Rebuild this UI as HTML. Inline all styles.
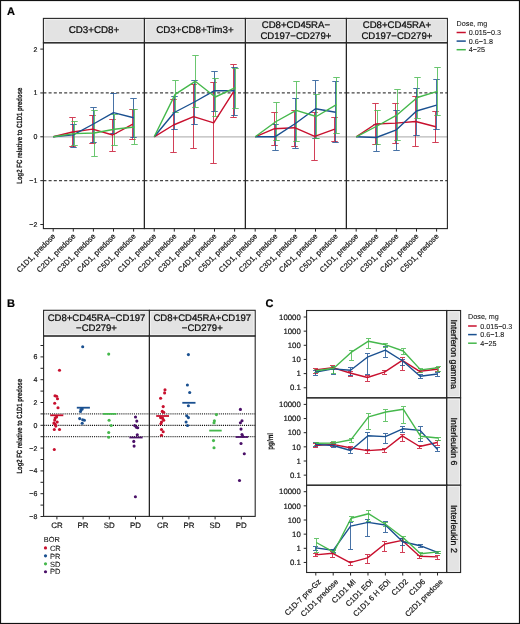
<!DOCTYPE html><html><head><meta charset="utf-8"><style>html,body{margin:0;padding:0;background:#fff;}svg{display:block;will-change:transform;}text{font-family:"Liberation Sans",sans-serif;text-rendering:geometricPrecision;stroke:currentColor;stroke-width:0.18px;} text.st{stroke-width:0.24px;} text.lg{stroke-width:0.08px;} text.nb{stroke-width:0.15px;}</style></head><body>
<svg width="520" height="624" viewBox="0 0 520 624">
<rect x="0" y="0" width="520" height="624" fill="#fff" stroke="none" stroke-width="1" />
<text x="6.9" y="14.9" font-size="11" text-anchor="start" fill="#000" font-weight="bold">A</text>
<text x="7" y="307" font-size="11" text-anchor="start" fill="#000" font-weight="bold">B</text>
<text x="265.6" y="306.6" font-size="11" text-anchor="start" fill="#000" font-weight="bold">C</text>
<rect x="43.4" y="18.4" width="101" height="24.4" fill="#e3e3e3" stroke="#262626" stroke-width="1.1" />
<rect x="44.7" y="19.7" width="98.4" height="21.8" fill="none" stroke="#f4f4f4" stroke-width="0.8" />
<text x="93.9" y="33.2" font-size="9.75" text-anchor="middle" fill="#111" class="st">CD3+CD8+</text>
<line x1="43.4" y1="136.8" x2="144.4" y2="136.8" stroke="#b8b8b8" stroke-width="1.2" />
<line x1="43.4" y1="92.95" x2="144.4" y2="92.95" stroke="#444" stroke-width="1.3" stroke-dasharray="3 2.2"/>
<line x1="43.4" y1="180.65" x2="144.4" y2="180.65" stroke="#444" stroke-width="1.3" stroke-dasharray="3 2.2"/>
<g stroke="#c8102e" stroke-width="1" opacity="0.8"><line x1="72.5" y1="117.5" x2="72.5" y2="146.5"/><line x1="69.25" y1="117.5" x2="75.75" y2="117.5"/><line x1="69.25" y1="146.5" x2="75.75" y2="146.5"/></g>
<g stroke="#c8102e" stroke-width="1" opacity="0.8"><line x1="92.5" y1="115.5" x2="92.5" y2="143.5"/><line x1="89.25" y1="115.5" x2="95.75" y2="115.5"/><line x1="89.25" y1="143.5" x2="95.75" y2="143.5"/></g>
<g stroke="#c8102e" stroke-width="1" opacity="0.8"><line x1="112.5" y1="119.5" x2="112.5" y2="151.5"/><line x1="109.25" y1="119.5" x2="115.75" y2="119.5"/><line x1="109.25" y1="151.5" x2="115.75" y2="151.5"/></g>
<g stroke="#c8102e" stroke-width="1" opacity="0.8"><line x1="132.5" y1="109.5" x2="132.5" y2="139.5"/><line x1="129.25" y1="109.5" x2="135.75" y2="109.5"/><line x1="129.25" y1="139.5" x2="135.75" y2="139.5"/></g>
<g stroke="#1a5090" stroke-width="1" opacity="0.8"><line x1="73.5" y1="124.5" x2="73.5" y2="147.5"/><line x1="70.25" y1="124.5" x2="76.75" y2="124.5"/><line x1="70.25" y1="147.5" x2="76.75" y2="147.5"/></g>
<g stroke="#1a5090" stroke-width="1" opacity="0.8"><line x1="93.5" y1="107.5" x2="93.5" y2="142.5"/><line x1="90.25" y1="107.5" x2="96.75" y2="107.5"/><line x1="90.25" y1="142.5" x2="96.75" y2="142.5"/></g>
<g stroke="#1a5090" stroke-width="1" opacity="0.8"><line x1="113.5" y1="93.5" x2="113.5" y2="133.5"/><line x1="110.25" y1="93.5" x2="116.75" y2="93.5"/><line x1="110.25" y1="133.5" x2="116.75" y2="133.5"/></g>
<g stroke="#1a5090" stroke-width="1" opacity="0.8"><line x1="133.5" y1="98.5" x2="133.5" y2="137.5"/><line x1="130.25" y1="98.5" x2="136.75" y2="98.5"/><line x1="130.25" y1="137.5" x2="136.75" y2="137.5"/></g>
<g stroke="#45b84c" stroke-width="1" opacity="0.8"><line x1="74.5" y1="121.5" x2="74.5" y2="145.5"/><line x1="71.25" y1="121.5" x2="77.75" y2="121.5"/><line x1="71.25" y1="145.5" x2="77.75" y2="145.5"/></g>
<g stroke="#45b84c" stroke-width="1" opacity="0.8"><line x1="94.5" y1="110.5" x2="94.5" y2="156.5"/><line x1="91.25" y1="110.5" x2="97.75" y2="110.5"/><line x1="91.25" y1="156.5" x2="97.75" y2="156.5"/></g>
<g stroke="#45b84c" stroke-width="1" opacity="0.8"><line x1="114.5" y1="114.5" x2="114.5" y2="145.5"/><line x1="111.25" y1="114.5" x2="117.75" y2="114.5"/><line x1="111.25" y1="145.5" x2="117.75" y2="145.5"/></g>
<g stroke="#45b84c" stroke-width="1" opacity="0.8"><line x1="134.5" y1="109.5" x2="134.5" y2="144.5"/><line x1="131.25" y1="109.5" x2="137.75" y2="109.5"/><line x1="131.25" y1="144.5" x2="137.75" y2="144.5"/></g>
<polyline points="53.2,136.8 72.5,132 92.6,129.1 112.7,135 132.8,124.1" fill="none" stroke="#c8102e" stroke-width="1.4" stroke-linejoin="round"/>
<polyline points="53.2,136.8 73.3,134.9 93.4,124 113.5,112.6 133.6,117.7" fill="none" stroke="#1a5090" stroke-width="1.4" stroke-linejoin="round"/>
<polyline points="53.2,136.8 74.1,133.6 94.2,133 114.3,129.2 134.4,127" fill="none" stroke="#45b84c" stroke-width="1.4" stroke-linejoin="round"/>
<rect x="43.4" y="42.8" width="101" height="185.8" fill="none" stroke="#262626" stroke-width="1.1" />
<line x1="53.2" y1="228.6" x2="53.2" y2="231.6" stroke="#262626" stroke-width="1" />
<text transform="translate(52.4,233.4) rotate(-45)" font-size="7.6" text-anchor="end" fill="#1f1f1f" dy="4.8">C1D1, predose</text>
<line x1="73.3" y1="228.6" x2="73.3" y2="231.6" stroke="#262626" stroke-width="1" />
<text transform="translate(72.5,233.4) rotate(-45)" font-size="7.6" text-anchor="end" fill="#1f1f1f" dy="4.8">C2D1, predose</text>
<line x1="93.4" y1="228.6" x2="93.4" y2="231.6" stroke="#262626" stroke-width="1" />
<text transform="translate(92.6,233.4) rotate(-45)" font-size="7.6" text-anchor="end" fill="#1f1f1f" dy="4.8">C3D1, predose</text>
<line x1="113.5" y1="228.6" x2="113.5" y2="231.6" stroke="#262626" stroke-width="1" />
<text transform="translate(112.7,233.4) rotate(-45)" font-size="7.6" text-anchor="end" fill="#1f1f1f" dy="4.8">C4D1, predose</text>
<line x1="133.6" y1="228.6" x2="133.6" y2="231.6" stroke="#262626" stroke-width="1" />
<text transform="translate(132.8,233.4) rotate(-45)" font-size="7.6" text-anchor="end" fill="#1f1f1f" dy="4.8">C5D1, predose</text>
<rect x="144.4" y="18.4" width="101" height="24.4" fill="#e3e3e3" stroke="#262626" stroke-width="1.1" />
<rect x="145.7" y="19.7" width="98.4" height="21.8" fill="none" stroke="#f4f4f4" stroke-width="0.8" />
<text x="194.9" y="33.2" font-size="9.75" text-anchor="middle" fill="#111" class="st">CD3+CD8+Tim3+</text>
<line x1="144.4" y1="136.8" x2="245.4" y2="136.8" stroke="#b8b8b8" stroke-width="1.2" />
<line x1="144.4" y1="92.95" x2="245.4" y2="92.95" stroke="#444" stroke-width="1.3" stroke-dasharray="3 2.2"/>
<line x1="144.4" y1="180.65" x2="245.4" y2="180.65" stroke="#444" stroke-width="1.3" stroke-dasharray="3 2.2"/>
<g stroke="#c8102e" stroke-width="1" opacity="0.8"><line x1="173.5" y1="99.5" x2="173.5" y2="152.5"/><line x1="170.25" y1="99.5" x2="176.75" y2="99.5"/><line x1="170.25" y1="152.5" x2="176.75" y2="152.5"/></g>
<g stroke="#c8102e" stroke-width="1" opacity="0.8"><line x1="193.5" y1="84.5" x2="193.5" y2="148.5"/><line x1="190.25" y1="84.5" x2="196.75" y2="84.5"/><line x1="190.25" y1="148.5" x2="196.75" y2="148.5"/></g>
<g stroke="#c8102e" stroke-width="1" opacity="0.8"><line x1="213.5" y1="82.5" x2="213.5" y2="163.5"/><line x1="210.25" y1="82.5" x2="216.75" y2="82.5"/><line x1="210.25" y1="163.5" x2="216.75" y2="163.5"/></g>
<g stroke="#c8102e" stroke-width="1" opacity="0.8"><line x1="233.5" y1="64.5" x2="233.5" y2="117.5"/><line x1="230.25" y1="64.5" x2="236.75" y2="64.5"/><line x1="230.25" y1="117.5" x2="236.75" y2="117.5"/></g>
<g stroke="#1a5090" stroke-width="1" opacity="0.8"><line x1="174.5" y1="96.5" x2="174.5" y2="129.5"/><line x1="171.25" y1="96.5" x2="177.75" y2="96.5"/><line x1="171.25" y1="129.5" x2="177.75" y2="129.5"/></g>
<g stroke="#1a5090" stroke-width="1" opacity="0.8"><line x1="194.5" y1="80.5" x2="194.5" y2="124.5"/><line x1="191.25" y1="80.5" x2="197.75" y2="80.5"/><line x1="191.25" y1="124.5" x2="197.75" y2="124.5"/></g>
<g stroke="#1a5090" stroke-width="1" opacity="0.8"><line x1="214.5" y1="71.5" x2="214.5" y2="111.5"/><line x1="211.25" y1="71.5" x2="217.75" y2="71.5"/><line x1="211.25" y1="111.5" x2="217.75" y2="111.5"/></g>
<g stroke="#1a5090" stroke-width="1" opacity="0.8"><line x1="234.5" y1="67.5" x2="234.5" y2="115.5"/><line x1="231.25" y1="67.5" x2="237.75" y2="67.5"/><line x1="231.25" y1="115.5" x2="237.75" y2="115.5"/></g>
<g stroke="#45b84c" stroke-width="1" opacity="0.8"><line x1="175.5" y1="80.5" x2="175.5" y2="112.5"/><line x1="172.25" y1="80.5" x2="178.75" y2="80.5"/><line x1="172.25" y1="112.5" x2="178.75" y2="112.5"/></g>
<g stroke="#45b84c" stroke-width="1" opacity="0.8"><line x1="195.5" y1="55.5" x2="195.5" y2="107.5"/><line x1="192.25" y1="55.5" x2="198.75" y2="55.5"/><line x1="192.25" y1="107.5" x2="198.75" y2="107.5"/></g>
<g stroke="#45b84c" stroke-width="1" opacity="0.8"><line x1="215.5" y1="78.5" x2="215.5" y2="116.5"/><line x1="212.25" y1="78.5" x2="218.75" y2="78.5"/><line x1="212.25" y1="116.5" x2="218.75" y2="116.5"/></g>
<g stroke="#45b84c" stroke-width="1" opacity="0.8"><line x1="235.5" y1="68.5" x2="235.5" y2="108.5"/><line x1="232.25" y1="68.5" x2="238.75" y2="68.5"/><line x1="232.25" y1="108.5" x2="238.75" y2="108.5"/></g>
<polyline points="154.2,136.8 173.5,125 193.6,116.7 213.7,122.8 233.8,91.4" fill="none" stroke="#c8102e" stroke-width="1.4" stroke-linejoin="round"/>
<polyline points="154.2,136.8 174.3,112.5 194.4,102 214.5,90.7 234.6,90.7" fill="none" stroke="#1a5090" stroke-width="1.4" stroke-linejoin="round"/>
<polyline points="154.2,136.8 175.1,94.4 195.2,81.3 215.3,97 235.4,87.6" fill="none" stroke="#45b84c" stroke-width="1.4" stroke-linejoin="round"/>
<rect x="144.4" y="42.8" width="101" height="185.8" fill="none" stroke="#262626" stroke-width="1.1" />
<line x1="154.2" y1="228.6" x2="154.2" y2="231.6" stroke="#262626" stroke-width="1" />
<text transform="translate(153.4,233.4) rotate(-45)" font-size="7.6" text-anchor="end" fill="#1f1f1f" dy="4.8">C1D1, predose</text>
<line x1="174.3" y1="228.6" x2="174.3" y2="231.6" stroke="#262626" stroke-width="1" />
<text transform="translate(173.5,233.4) rotate(-45)" font-size="7.6" text-anchor="end" fill="#1f1f1f" dy="4.8">C2D1, predose</text>
<line x1="194.4" y1="228.6" x2="194.4" y2="231.6" stroke="#262626" stroke-width="1" />
<text transform="translate(193.6,233.4) rotate(-45)" font-size="7.6" text-anchor="end" fill="#1f1f1f" dy="4.8">C3D1, predose</text>
<line x1="214.5" y1="228.6" x2="214.5" y2="231.6" stroke="#262626" stroke-width="1" />
<text transform="translate(213.7,233.4) rotate(-45)" font-size="7.6" text-anchor="end" fill="#1f1f1f" dy="4.8">C4D1, predose</text>
<line x1="234.6" y1="228.6" x2="234.6" y2="231.6" stroke="#262626" stroke-width="1" />
<text transform="translate(233.8,233.4) rotate(-45)" font-size="7.6" text-anchor="end" fill="#1f1f1f" dy="4.8">C5D1, predose</text>
<rect x="245.4" y="18.4" width="101" height="24.4" fill="#e3e3e3" stroke="#262626" stroke-width="1.1" />
<rect x="246.7" y="19.7" width="98.4" height="21.8" fill="none" stroke="#f4f4f4" stroke-width="0.8" />
<text x="295.9" y="28" font-size="9.6" text-anchor="middle" fill="#111" class="st">CD8+CD45RA&#8722;</text>
<text x="295.9" y="38.7" font-size="9.6" text-anchor="middle" fill="#111" class="st">CD197&#8722;CD279+</text>
<line x1="245.4" y1="136.8" x2="346.4" y2="136.8" stroke="#b8b8b8" stroke-width="1.2" />
<line x1="245.4" y1="92.95" x2="346.4" y2="92.95" stroke="#444" stroke-width="1.3" stroke-dasharray="3 2.2"/>
<line x1="245.4" y1="180.65" x2="346.4" y2="180.65" stroke="#444" stroke-width="1.3" stroke-dasharray="3 2.2"/>
<g stroke="#c8102e" stroke-width="1" opacity="0.8"><line x1="274.5" y1="112.5" x2="274.5" y2="145.5"/><line x1="271.25" y1="112.5" x2="277.75" y2="112.5"/><line x1="271.25" y1="145.5" x2="277.75" y2="145.5"/></g>
<g stroke="#c8102e" stroke-width="1" opacity="0.8"><line x1="294.5" y1="110.5" x2="294.5" y2="146.5"/><line x1="291.25" y1="110.5" x2="297.75" y2="110.5"/><line x1="291.25" y1="146.5" x2="297.75" y2="146.5"/></g>
<g stroke="#c8102e" stroke-width="1" opacity="0.8"><line x1="314.5" y1="112.5" x2="314.5" y2="160.5"/><line x1="311.25" y1="112.5" x2="317.75" y2="112.5"/><line x1="311.25" y1="160.5" x2="317.75" y2="160.5"/></g>
<g stroke="#c8102e" stroke-width="1" opacity="0.8"><line x1="334.5" y1="117.5" x2="334.5" y2="141.5"/><line x1="331.25" y1="117.5" x2="337.75" y2="117.5"/><line x1="331.25" y1="141.5" x2="337.75" y2="141.5"/></g>
<g stroke="#1a5090" stroke-width="1" opacity="0.8"><line x1="275.5" y1="124.5" x2="275.5" y2="150.5"/><line x1="272.25" y1="124.5" x2="278.75" y2="124.5"/><line x1="272.25" y1="150.5" x2="278.75" y2="150.5"/></g>
<g stroke="#1a5090" stroke-width="1" opacity="0.8"><line x1="295.5" y1="98.5" x2="295.5" y2="148.5"/><line x1="292.25" y1="98.5" x2="298.75" y2="98.5"/><line x1="292.25" y1="148.5" x2="298.75" y2="148.5"/></g>
<g stroke="#1a5090" stroke-width="1" opacity="0.8"><line x1="315.5" y1="80.5" x2="315.5" y2="138.5"/><line x1="312.25" y1="80.5" x2="318.75" y2="80.5"/><line x1="312.25" y1="138.5" x2="318.75" y2="138.5"/></g>
<g stroke="#1a5090" stroke-width="1" opacity="0.8"><line x1="335.5" y1="81.5" x2="335.5" y2="142.5"/><line x1="332.25" y1="81.5" x2="338.75" y2="81.5"/><line x1="332.25" y1="142.5" x2="338.75" y2="142.5"/></g>
<g stroke="#45b84c" stroke-width="1" opacity="0.8"><line x1="276.5" y1="102.5" x2="276.5" y2="140.5"/><line x1="273.25" y1="102.5" x2="279.75" y2="102.5"/><line x1="273.25" y1="140.5" x2="279.75" y2="140.5"/></g>
<g stroke="#45b84c" stroke-width="1" opacity="0.8"><line x1="296.5" y1="81.5" x2="296.5" y2="141.5"/><line x1="293.25" y1="81.5" x2="299.75" y2="81.5"/><line x1="293.25" y1="141.5" x2="299.75" y2="141.5"/></g>
<g stroke="#45b84c" stroke-width="1" opacity="0.8"><line x1="316.5" y1="94.5" x2="316.5" y2="138.5"/><line x1="313.25" y1="94.5" x2="319.75" y2="94.5"/><line x1="313.25" y1="138.5" x2="319.75" y2="138.5"/></g>
<g stroke="#45b84c" stroke-width="1" opacity="0.8"><line x1="336.5" y1="77.5" x2="336.5" y2="133.5"/><line x1="333.25" y1="77.5" x2="339.75" y2="77.5"/><line x1="333.25" y1="133.5" x2="339.75" y2="133.5"/></g>
<polyline points="255.2,136.8 274.5,128.7 294.6,127.7 314.7,136.3 334.8,129.2" fill="none" stroke="#c8102e" stroke-width="1.4" stroke-linejoin="round"/>
<polyline points="255.2,136.8 275.3,136.7 295.4,123.5 315.5,108.8 335.6,112.3" fill="none" stroke="#1a5090" stroke-width="1.4" stroke-linejoin="round"/>
<polyline points="255.2,136.8 276.1,121.5 296.2,110.4 316.3,116.5 336.4,104.6" fill="none" stroke="#45b84c" stroke-width="1.4" stroke-linejoin="round"/>
<rect x="245.4" y="42.8" width="101" height="185.8" fill="none" stroke="#262626" stroke-width="1.1" />
<line x1="255.2" y1="228.6" x2="255.2" y2="231.6" stroke="#262626" stroke-width="1" />
<text transform="translate(254.4,233.4) rotate(-45)" font-size="7.6" text-anchor="end" fill="#1f1f1f" dy="4.8">C1D1, predose</text>
<line x1="275.3" y1="228.6" x2="275.3" y2="231.6" stroke="#262626" stroke-width="1" />
<text transform="translate(274.5,233.4) rotate(-45)" font-size="7.6" text-anchor="end" fill="#1f1f1f" dy="4.8">C2D1, predose</text>
<line x1="295.4" y1="228.6" x2="295.4" y2="231.6" stroke="#262626" stroke-width="1" />
<text transform="translate(294.6,233.4) rotate(-45)" font-size="7.6" text-anchor="end" fill="#1f1f1f" dy="4.8">C3D1, predose</text>
<line x1="315.5" y1="228.6" x2="315.5" y2="231.6" stroke="#262626" stroke-width="1" />
<text transform="translate(314.7,233.4) rotate(-45)" font-size="7.6" text-anchor="end" fill="#1f1f1f" dy="4.8">C4D1, predose</text>
<line x1="335.6" y1="228.6" x2="335.6" y2="231.6" stroke="#262626" stroke-width="1" />
<text transform="translate(334.8,233.4) rotate(-45)" font-size="7.6" text-anchor="end" fill="#1f1f1f" dy="4.8">C5D1, predose</text>
<rect x="346.4" y="18.4" width="101" height="24.4" fill="#e3e3e3" stroke="#262626" stroke-width="1.1" />
<rect x="347.7" y="19.7" width="98.4" height="21.8" fill="none" stroke="#f4f4f4" stroke-width="0.8" />
<text x="396.9" y="28" font-size="9.6" text-anchor="middle" fill="#111" class="st">CD8+CD45RA+</text>
<text x="396.9" y="38.7" font-size="9.6" text-anchor="middle" fill="#111" class="st">CD197&#8722;CD279+</text>
<line x1="346.4" y1="136.8" x2="447.4" y2="136.8" stroke="#b8b8b8" stroke-width="1.2" />
<line x1="346.4" y1="92.95" x2="447.4" y2="92.95" stroke="#444" stroke-width="1.3" stroke-dasharray="3 2.2"/>
<line x1="346.4" y1="180.65" x2="447.4" y2="180.65" stroke="#444" stroke-width="1.3" stroke-dasharray="3 2.2"/>
<g stroke="#c8102e" stroke-width="1" opacity="0.8"><line x1="375.5" y1="103.5" x2="375.5" y2="144.5"/><line x1="372.25" y1="103.5" x2="378.75" y2="103.5"/><line x1="372.25" y1="144.5" x2="378.75" y2="144.5"/></g>
<g stroke="#c8102e" stroke-width="1" opacity="0.8"><line x1="395.5" y1="103.5" x2="395.5" y2="143.5"/><line x1="392.25" y1="103.5" x2="398.75" y2="103.5"/><line x1="392.25" y1="143.5" x2="398.75" y2="143.5"/></g>
<g stroke="#c8102e" stroke-width="1" opacity="0.8"><line x1="415.5" y1="96.5" x2="415.5" y2="146.5"/><line x1="412.25" y1="96.5" x2="418.75" y2="96.5"/><line x1="412.25" y1="146.5" x2="418.75" y2="146.5"/></g>
<g stroke="#c8102e" stroke-width="1" opacity="0.8"><line x1="435.5" y1="111.5" x2="435.5" y2="142.5"/><line x1="432.25" y1="111.5" x2="438.75" y2="111.5"/><line x1="432.25" y1="142.5" x2="438.75" y2="142.5"/></g>
<g stroke="#1a5090" stroke-width="1" opacity="0.8"><line x1="376.5" y1="124.5" x2="376.5" y2="151.5"/><line x1="373.25" y1="124.5" x2="379.75" y2="124.5"/><line x1="373.25" y1="151.5" x2="379.75" y2="151.5"/></g>
<g stroke="#1a5090" stroke-width="1" opacity="0.8"><line x1="396.5" y1="110.5" x2="396.5" y2="150.5"/><line x1="393.25" y1="110.5" x2="399.75" y2="110.5"/><line x1="393.25" y1="150.5" x2="399.75" y2="150.5"/></g>
<g stroke="#1a5090" stroke-width="1" opacity="0.8"><line x1="416.5" y1="88.5" x2="416.5" y2="135.5"/><line x1="413.25" y1="88.5" x2="419.75" y2="88.5"/><line x1="413.25" y1="135.5" x2="419.75" y2="135.5"/></g>
<g stroke="#1a5090" stroke-width="1" opacity="0.8"><line x1="436.5" y1="79.5" x2="436.5" y2="129.5"/><line x1="433.25" y1="79.5" x2="439.75" y2="79.5"/><line x1="433.25" y1="129.5" x2="439.75" y2="129.5"/></g>
<g stroke="#45b84c" stroke-width="1" opacity="0.8"><line x1="377.5" y1="110.5" x2="377.5" y2="144.5"/><line x1="374.25" y1="110.5" x2="380.75" y2="110.5"/><line x1="374.25" y1="144.5" x2="380.75" y2="144.5"/></g>
<g stroke="#45b84c" stroke-width="1" opacity="0.8"><line x1="397.5" y1="89.5" x2="397.5" y2="140.5"/><line x1="394.25" y1="89.5" x2="400.75" y2="89.5"/><line x1="394.25" y1="140.5" x2="400.75" y2="140.5"/></g>
<g stroke="#45b84c" stroke-width="1" opacity="0.8"><line x1="417.5" y1="77.5" x2="417.5" y2="118.5"/><line x1="414.25" y1="77.5" x2="420.75" y2="77.5"/><line x1="414.25" y1="118.5" x2="420.75" y2="118.5"/></g>
<g stroke="#45b84c" stroke-width="1" opacity="0.8"><line x1="437.5" y1="67.5" x2="437.5" y2="115.5"/><line x1="434.25" y1="67.5" x2="440.75" y2="67.5"/><line x1="434.25" y1="115.5" x2="440.75" y2="115.5"/></g>
<polyline points="356.2,136.8 375.5,124 395.6,123.1 415.7,121.5 435.8,126.7" fill="none" stroke="#c8102e" stroke-width="1.4" stroke-linejoin="round"/>
<polyline points="356.2,136.8 376.3,137.5 396.4,129.8 416.5,111 436.6,105.2" fill="none" stroke="#1a5090" stroke-width="1.4" stroke-linejoin="round"/>
<polyline points="356.2,136.8 377.1,126 397.2,114.8 417.3,97.5 437.4,91.3" fill="none" stroke="#45b84c" stroke-width="1.4" stroke-linejoin="round"/>
<rect x="346.4" y="42.8" width="101" height="185.8" fill="none" stroke="#262626" stroke-width="1.1" />
<line x1="356.2" y1="228.6" x2="356.2" y2="231.6" stroke="#262626" stroke-width="1" />
<text transform="translate(355.4,233.4) rotate(-45)" font-size="7.6" text-anchor="end" fill="#1f1f1f" dy="4.8">C1D1, predose</text>
<line x1="376.3" y1="228.6" x2="376.3" y2="231.6" stroke="#262626" stroke-width="1" />
<text transform="translate(375.5,233.4) rotate(-45)" font-size="7.6" text-anchor="end" fill="#1f1f1f" dy="4.8">C2D1, predose</text>
<line x1="396.4" y1="228.6" x2="396.4" y2="231.6" stroke="#262626" stroke-width="1" />
<text transform="translate(395.6,233.4) rotate(-45)" font-size="7.6" text-anchor="end" fill="#1f1f1f" dy="4.8">C3D1, predose</text>
<line x1="416.5" y1="228.6" x2="416.5" y2="231.6" stroke="#262626" stroke-width="1" />
<text transform="translate(415.7,233.4) rotate(-45)" font-size="7.6" text-anchor="end" fill="#1f1f1f" dy="4.8">C4D1, predose</text>
<line x1="436.6" y1="228.6" x2="436.6" y2="231.6" stroke="#262626" stroke-width="1" />
<text transform="translate(435.8,233.4) rotate(-45)" font-size="7.6" text-anchor="end" fill="#1f1f1f" dy="4.8">C5D1, predose</text>
<line x1="40.3" y1="49.1" x2="43.4" y2="49.1" stroke="#262626" stroke-width="1" />
<text x="37.3" y="51.6" font-size="7" text-anchor="end" fill="#1f1f1f" >2</text>
<line x1="40.3" y1="92.95" x2="43.4" y2="92.95" stroke="#262626" stroke-width="1" />
<text x="37.3" y="95.45" font-size="7" text-anchor="end" fill="#1f1f1f" >1</text>
<line x1="40.3" y1="136.8" x2="43.4" y2="136.8" stroke="#262626" stroke-width="1" />
<text x="37.3" y="139.3" font-size="7" text-anchor="end" fill="#1f1f1f" >0</text>
<line x1="40.3" y1="180.65" x2="43.4" y2="180.65" stroke="#262626" stroke-width="1" />
<text x="37.3" y="183.15" font-size="7" text-anchor="end" fill="#1f1f1f" >&#8722;1</text>
<line x1="40.3" y1="224.5" x2="43.4" y2="224.5" stroke="#262626" stroke-width="1" />
<text x="37.3" y="227" font-size="7" text-anchor="end" fill="#1f1f1f" >&#8722;2</text>
<text transform="translate(21.6,135.7) rotate(-90) scale(0.79,1)" font-size="7.6" font-weight="bold" class="nb" text-anchor="middle" fill="#1a1a1a">Log2 FC relative to C1D1 predose</text>
<text x="456.6" y="25.8" font-size="7.2" text-anchor="start" fill="#222" class="lg">Dose, mg</text>
<line x1="456.6" y1="32.5" x2="465.8" y2="32.5" stroke="#c8102e" stroke-width="1.5" />
<text x="468.8" y="35" font-size="7.2" text-anchor="start" fill="#222" class="lg">0.015&#8722;0.3</text>
<line x1="456.6" y1="41.1" x2="465.8" y2="41.1" stroke="#1a5090" stroke-width="1.5" />
<text x="468.8" y="43.6" font-size="7.2" text-anchor="start" fill="#222" class="lg">0.6&#8722;1.8</text>
<line x1="456.6" y1="49.7" x2="465.8" y2="49.7" stroke="#45b84c" stroke-width="1.5" />
<text x="468.8" y="52.2" font-size="7.2" text-anchor="start" fill="#222" class="lg">4&#8722;25</text>
<rect x="43.6" y="310.3" width="105.8" height="25.7" fill="#e3e3e3" stroke="#262626" stroke-width="1.1" />
<rect x="44.9" y="311.6" width="103.2" height="23.1" fill="none" stroke="#f4f4f4" stroke-width="0.8" />
<text x="96.5" y="320.8" font-size="9.55" text-anchor="middle" fill="#111" class="st">CD8+CD45RA&#8722;CD197</text>
<text x="96.5" y="331" font-size="9.55" text-anchor="middle" fill="#111" class="st">&#8722;CD279+</text>
<line x1="43.6" y1="413.9" x2="149.4" y2="413.9" stroke="#333" stroke-width="1.3" stroke-dasharray="1.1 1"/>
<line x1="43.6" y1="425.3" x2="149.4" y2="425.3" stroke="#111" stroke-width="1.3" stroke-dasharray="1.1 1"/>
<line x1="43.6" y1="436.7" x2="149.4" y2="436.7" stroke="#333" stroke-width="1.3" stroke-dasharray="1.1 1"/>
<line x1="50.2" y1="415.3" x2="63.3" y2="415.3" stroke="#c8102e" stroke-width="1.8" />
<line x1="76.8" y1="407.7" x2="89.9" y2="407.7" stroke="#1a5090" stroke-width="1.8" />
<line x1="102.9" y1="413.9" x2="116.5" y2="413.9" stroke="#45b84c" stroke-width="1.8" />
<line x1="129.4" y1="437.5" x2="142.6" y2="437.5" stroke="#4a1068" stroke-width="1.8" />
<circle cx="59.5" cy="370.3" r="1.55" fill="#c8102e"/>
<circle cx="55" cy="395.8" r="1.55" fill="#c8102e"/>
<circle cx="56.6" cy="396.2" r="1.55" fill="#c8102e"/>
<circle cx="57.5" cy="398.8" r="1.55" fill="#c8102e"/>
<circle cx="54.7" cy="403.2" r="1.55" fill="#c8102e"/>
<circle cx="58" cy="407.7" r="1.55" fill="#c8102e"/>
<circle cx="56.6" cy="416.9" r="1.55" fill="#c8102e"/>
<circle cx="55.2" cy="418.1" r="1.55" fill="#c8102e"/>
<circle cx="54.7" cy="420.1" r="1.55" fill="#c8102e"/>
<circle cx="57.2" cy="422" r="1.55" fill="#c8102e"/>
<circle cx="53.9" cy="423.1" r="1.55" fill="#c8102e"/>
<circle cx="55.2" cy="424.2" r="1.55" fill="#c8102e"/>
<circle cx="55.8" cy="426.1" r="1.55" fill="#c8102e"/>
<circle cx="54.3" cy="429.5" r="1.55" fill="#c8102e"/>
<circle cx="59.5" cy="429.5" r="1.55" fill="#c8102e"/>
<circle cx="54.3" cy="449.5" r="1.55" fill="#c8102e"/>
<circle cx="82.7" cy="346.7" r="1.55" fill="#1a5090"/>
<circle cx="81" cy="409.6" r="1.55" fill="#1a5090"/>
<circle cx="82.2" cy="409.1" r="1.55" fill="#1a5090"/>
<circle cx="80.5" cy="411.5" r="1.55" fill="#1a5090"/>
<circle cx="79.7" cy="418.6" r="1.55" fill="#1a5090"/>
<circle cx="82.7" cy="419.7" r="1.55" fill="#1a5090"/>
<circle cx="84.4" cy="420.3" r="1.55" fill="#1a5090"/>
<circle cx="82.2" cy="423.3" r="1.55" fill="#1a5090"/>
<circle cx="108.7" cy="354.1" r="1.55" fill="#45b84c"/>
<circle cx="109.1" cy="420.2" r="1.55" fill="#45b84c"/>
<circle cx="111.2" cy="425.5" r="1.55" fill="#45b84c"/>
<circle cx="108.7" cy="432.5" r="1.55" fill="#45b84c"/>
<circle cx="108.7" cy="437.3" r="1.55" fill="#45b84c"/>
<circle cx="135.5" cy="417" r="1.55" fill="#4a1068"/>
<circle cx="136.8" cy="421.1" r="1.55" fill="#4a1068"/>
<circle cx="134.7" cy="425.5" r="1.55" fill="#4a1068"/>
<circle cx="136.4" cy="427.3" r="1.55" fill="#4a1068"/>
<circle cx="137.7" cy="427.8" r="1.55" fill="#4a1068"/>
<circle cx="137.3" cy="434.7" r="1.55" fill="#4a1068"/>
<circle cx="133.8" cy="441.4" r="1.55" fill="#4a1068"/>
<circle cx="134.1" cy="446.1" r="1.55" fill="#4a1068"/>
<circle cx="135.4" cy="496.8" r="1.55" fill="#4a1068"/>
<rect x="43.6" y="336" width="105.8" height="180.4" fill="none" stroke="#262626" stroke-width="1.1" />
<line x1="56.9" y1="516.4" x2="56.9" y2="519.4" stroke="#262626" stroke-width="1" />
<text x="56.9" y="528.4" font-size="7.9" text-anchor="middle" fill="#1f1f1f" >CR</text>
<line x1="83.1" y1="516.4" x2="83.1" y2="519.4" stroke="#262626" stroke-width="1" />
<text x="83.1" y="528.4" font-size="7.9" text-anchor="middle" fill="#1f1f1f" >PR</text>
<line x1="109.3" y1="516.4" x2="109.3" y2="519.4" stroke="#262626" stroke-width="1" />
<text x="109.3" y="528.4" font-size="7.9" text-anchor="middle" fill="#1f1f1f" >SD</text>
<line x1="135.5" y1="516.4" x2="135.5" y2="519.4" stroke="#262626" stroke-width="1" />
<text x="135.5" y="528.4" font-size="7.9" text-anchor="middle" fill="#1f1f1f" >PD</text>
<rect x="149.4" y="310.3" width="105.8" height="25.7" fill="#e3e3e3" stroke="#262626" stroke-width="1.1" />
<rect x="150.7" y="311.6" width="103.2" height="23.1" fill="none" stroke="#f4f4f4" stroke-width="0.8" />
<text x="202.3" y="320.8" font-size="9.55" text-anchor="middle" fill="#111" class="st">CD8+CD45RA+CD197</text>
<text x="202.3" y="331" font-size="9.55" text-anchor="middle" fill="#111" class="st">&#8722;CD279+</text>
<line x1="149.4" y1="413.9" x2="255.2" y2="413.9" stroke="#333" stroke-width="1.3" stroke-dasharray="1.1 1"/>
<line x1="149.4" y1="425.3" x2="255.2" y2="425.3" stroke="#111" stroke-width="1.3" stroke-dasharray="1.1 1"/>
<line x1="149.4" y1="436.7" x2="255.2" y2="436.7" stroke="#333" stroke-width="1.3" stroke-dasharray="1.1 1"/>
<line x1="156.2" y1="416" x2="169" y2="416" stroke="#c8102e" stroke-width="1.8" />
<line x1="182.3" y1="402.8" x2="195.5" y2="402.8" stroke="#1a5090" stroke-width="1.8" />
<line x1="209.2" y1="430.6" x2="221.7" y2="430.6" stroke="#45b84c" stroke-width="1.8" />
<line x1="235.6" y1="437" x2="248.1" y2="437" stroke="#4a1068" stroke-width="1.8" />
<circle cx="165" cy="389.7" r="1.55" fill="#c8102e"/>
<circle cx="164.6" cy="392.9" r="1.55" fill="#c8102e"/>
<circle cx="160.6" cy="398.2" r="1.55" fill="#c8102e"/>
<circle cx="163.2" cy="406.6" r="1.55" fill="#c8102e"/>
<circle cx="162.3" cy="411.4" r="1.55" fill="#c8102e"/>
<circle cx="163.7" cy="412.3" r="1.55" fill="#c8102e"/>
<circle cx="160.6" cy="417.6" r="1.55" fill="#c8102e"/>
<circle cx="162.7" cy="418.4" r="1.55" fill="#c8102e"/>
<circle cx="163.7" cy="420.2" r="1.55" fill="#c8102e"/>
<circle cx="161.5" cy="422" r="1.55" fill="#c8102e"/>
<circle cx="160.9" cy="423.7" r="1.55" fill="#c8102e"/>
<circle cx="161.5" cy="429.5" r="1.55" fill="#c8102e"/>
<circle cx="163.2" cy="431.7" r="1.55" fill="#c8102e"/>
<circle cx="161.5" cy="435.2" r="1.55" fill="#c8102e"/>
<circle cx="188.4" cy="354.6" r="1.55" fill="#1a5090"/>
<circle cx="187.4" cy="385" r="1.55" fill="#1a5090"/>
<circle cx="189.7" cy="392.5" r="1.55" fill="#1a5090"/>
<circle cx="188.4" cy="405.7" r="1.55" fill="#1a5090"/>
<circle cx="186.7" cy="415.8" r="1.55" fill="#1a5090"/>
<circle cx="188.4" cy="417.6" r="1.55" fill="#1a5090"/>
<circle cx="186.1" cy="422" r="1.55" fill="#1a5090"/>
<circle cx="187.5" cy="425.5" r="1.55" fill="#1a5090"/>
<circle cx="216.4" cy="414.6" r="1.55" fill="#45b84c"/>
<circle cx="214.4" cy="420.8" r="1.55" fill="#45b84c"/>
<circle cx="214" cy="422.7" r="1.55" fill="#45b84c"/>
<circle cx="213.5" cy="440.6" r="1.55" fill="#45b84c"/>
<circle cx="214" cy="447.7" r="1.55" fill="#45b84c"/>
<circle cx="240.4" cy="409.4" r="1.55" fill="#4a1068"/>
<circle cx="242" cy="420.8" r="1.55" fill="#4a1068"/>
<circle cx="240.4" cy="422.7" r="1.55" fill="#4a1068"/>
<circle cx="241" cy="429.1" r="1.55" fill="#4a1068"/>
<circle cx="242" cy="434.5" r="1.55" fill="#4a1068"/>
<circle cx="242.7" cy="436.2" r="1.55" fill="#4a1068"/>
<circle cx="241" cy="443.5" r="1.55" fill="#4a1068"/>
<circle cx="244.3" cy="453.7" r="1.55" fill="#4a1068"/>
<circle cx="239.5" cy="480.5" r="1.55" fill="#4a1068"/>
<rect x="149.4" y="336" width="105.8" height="180.4" fill="none" stroke="#262626" stroke-width="1.1" />
<line x1="162.7" y1="516.4" x2="162.7" y2="519.4" stroke="#262626" stroke-width="1" />
<text x="162.7" y="528.4" font-size="7.9" text-anchor="middle" fill="#1f1f1f" >CR</text>
<line x1="188.9" y1="516.4" x2="188.9" y2="519.4" stroke="#262626" stroke-width="1" />
<text x="188.9" y="528.4" font-size="7.9" text-anchor="middle" fill="#1f1f1f" >PR</text>
<line x1="215.1" y1="516.4" x2="215.1" y2="519.4" stroke="#262626" stroke-width="1" />
<text x="215.1" y="528.4" font-size="7.9" text-anchor="middle" fill="#1f1f1f" >SD</text>
<line x1="241.3" y1="516.4" x2="241.3" y2="519.4" stroke="#262626" stroke-width="1" />
<text x="241.3" y="528.4" font-size="7.9" text-anchor="middle" fill="#1f1f1f" >PD</text>
<line x1="40.5" y1="516.5" x2="43.6" y2="516.5" stroke="#262626" stroke-width="1" />
<text x="37.3" y="519" font-size="7" text-anchor="end" fill="#1f1f1f" >&#8722;8</text>
<line x1="40.5" y1="505.1" x2="43.6" y2="505.1" stroke="#262626" stroke-width="1" />
<line x1="40.5" y1="493.7" x2="43.6" y2="493.7" stroke="#262626" stroke-width="1" />
<text x="37.3" y="496.2" font-size="7" text-anchor="end" fill="#1f1f1f" >&#8722;6</text>
<line x1="40.5" y1="482.3" x2="43.6" y2="482.3" stroke="#262626" stroke-width="1" />
<line x1="40.5" y1="470.9" x2="43.6" y2="470.9" stroke="#262626" stroke-width="1" />
<text x="37.3" y="473.4" font-size="7" text-anchor="end" fill="#1f1f1f" >&#8722;4</text>
<line x1="40.5" y1="459.5" x2="43.6" y2="459.5" stroke="#262626" stroke-width="1" />
<line x1="40.5" y1="448.1" x2="43.6" y2="448.1" stroke="#262626" stroke-width="1" />
<text x="37.3" y="450.6" font-size="7" text-anchor="end" fill="#1f1f1f" >&#8722;2</text>
<line x1="40.5" y1="436.7" x2="43.6" y2="436.7" stroke="#262626" stroke-width="1" />
<line x1="40.5" y1="425.3" x2="43.6" y2="425.3" stroke="#262626" stroke-width="1" />
<text x="37.3" y="427.8" font-size="7" text-anchor="end" fill="#1f1f1f" >0</text>
<line x1="40.5" y1="413.9" x2="43.6" y2="413.9" stroke="#262626" stroke-width="1" />
<line x1="40.5" y1="402.5" x2="43.6" y2="402.5" stroke="#262626" stroke-width="1" />
<text x="37.3" y="405" font-size="7" text-anchor="end" fill="#1f1f1f" >2</text>
<line x1="40.5" y1="391.1" x2="43.6" y2="391.1" stroke="#262626" stroke-width="1" />
<line x1="40.5" y1="379.7" x2="43.6" y2="379.7" stroke="#262626" stroke-width="1" />
<text x="37.3" y="382.2" font-size="7" text-anchor="end" fill="#1f1f1f" >4</text>
<line x1="40.5" y1="368.3" x2="43.6" y2="368.3" stroke="#262626" stroke-width="1" />
<line x1="40.5" y1="356.9" x2="43.6" y2="356.9" stroke="#262626" stroke-width="1" />
<text x="37.3" y="359.4" font-size="7" text-anchor="end" fill="#1f1f1f" >6</text>
<line x1="40.5" y1="345.5" x2="43.6" y2="345.5" stroke="#262626" stroke-width="1" />
<text transform="translate(21.8,426.2) rotate(-90) scale(0.78,1)" font-size="7.6" font-weight="bold" class="nb" text-anchor="middle" fill="#1a1a1a">Log2 FC relative to C1D1 predose</text>
<text x="43.8" y="542.1" font-size="7.4" text-anchor="start" fill="#222" class="lg">BOR</text>
<circle cx="45.5" cy="547.9" r="1.6" fill="#c8102e"/>
<text x="49.9" y="550.6" font-size="7.5" text-anchor="start" fill="#222" class="lg">CR</text>
<circle cx="45.5" cy="555.85" r="1.6" fill="#1a5090"/>
<text x="49.9" y="558.55" font-size="7.5" text-anchor="start" fill="#222" class="lg">PR</text>
<circle cx="45.5" cy="563.8" r="1.6" fill="#45b84c"/>
<text x="49.9" y="566.5" font-size="7.5" text-anchor="start" fill="#222" class="lg">SD</text>
<circle cx="45.5" cy="571.75" r="1.6" fill="#4a1068"/>
<text x="49.9" y="574.45" font-size="7.5" text-anchor="start" fill="#222" class="lg">PD</text>
<rect x="446.7" y="310.5" width="13.9" height="87.3" fill="#e3e3e3" stroke="#262626" stroke-width="1.1" />
<rect x="448" y="311.8" width="11.3" height="84.7" fill="none" stroke="#f4f4f4" stroke-width="0.8" />
<text transform="translate(451.3,354.15) rotate(90)" font-size="8.8" class="st" text-anchor="middle" fill="#111">Interferon gamma</text>
<g stroke="#c8102e" stroke-width="1" opacity="0.8"><line x1="315.5" y1="368.5" x2="315.5" y2="373.5"/><line x1="313" y1="368.5" x2="318" y2="368.5"/><line x1="313" y1="373.5" x2="318" y2="373.5"/></g>
<g stroke="#c8102e" stroke-width="1" opacity="0.8"><line x1="332.5" y1="365.5" x2="332.5" y2="369.5"/><line x1="330" y1="365.5" x2="335" y2="365.5"/><line x1="330" y1="369.5" x2="335" y2="369.5"/></g>
<g stroke="#c8102e" stroke-width="1" opacity="0.8"><line x1="350.5" y1="371.5" x2="350.5" y2="376.5"/><line x1="348" y1="371.5" x2="353" y2="371.5"/><line x1="348" y1="376.5" x2="353" y2="376.5"/></g>
<g stroke="#c8102e" stroke-width="1" opacity="0.8"><line x1="367.5" y1="375.5" x2="367.5" y2="381.5"/><line x1="365" y1="375.5" x2="370" y2="375.5"/><line x1="365" y1="381.5" x2="370" y2="381.5"/></g>
<g stroke="#c8102e" stroke-width="1" opacity="0.8"><line x1="384.5" y1="370.5" x2="384.5" y2="374.5"/><line x1="382" y1="370.5" x2="387" y2="370.5"/><line x1="382" y1="374.5" x2="387" y2="374.5"/></g>
<g stroke="#c8102e" stroke-width="1" opacity="0.8"><line x1="402.5" y1="357.5" x2="402.5" y2="370.5"/><line x1="400" y1="357.5" x2="405" y2="357.5"/><line x1="400" y1="370.5" x2="405" y2="370.5"/></g>
<g stroke="#c8102e" stroke-width="1" opacity="0.8"><line x1="419.5" y1="370.5" x2="419.5" y2="372.5"/><line x1="417" y1="370.5" x2="422" y2="370.5"/><line x1="417" y1="372.5" x2="422" y2="372.5"/></g>
<g stroke="#c8102e" stroke-width="1" opacity="0.8"><line x1="437.5" y1="367.5" x2="437.5" y2="371.5"/><line x1="435" y1="367.5" x2="440" y2="367.5"/><line x1="435" y1="371.5" x2="440" y2="371.5"/></g>
<g stroke="#1a5090" stroke-width="1" opacity="0.8"><line x1="315.5" y1="370.5" x2="315.5" y2="375.5"/><line x1="313" y1="370.5" x2="318" y2="370.5"/><line x1="313" y1="375.5" x2="318" y2="375.5"/></g>
<g stroke="#1a5090" stroke-width="1" opacity="0.8"><line x1="333.5" y1="366.5" x2="333.5" y2="374.5"/><line x1="331" y1="366.5" x2="336" y2="366.5"/><line x1="331" y1="374.5" x2="336" y2="374.5"/></g>
<g stroke="#1a5090" stroke-width="1" opacity="0.8"><line x1="350.5" y1="367.5" x2="350.5" y2="375.5"/><line x1="348" y1="367.5" x2="353" y2="367.5"/><line x1="348" y1="375.5" x2="353" y2="375.5"/></g>
<g stroke="#1a5090" stroke-width="1" opacity="0.8"><line x1="367.5" y1="353.5" x2="367.5" y2="374.5"/><line x1="365" y1="353.5" x2="370" y2="353.5"/><line x1="365" y1="374.5" x2="370" y2="374.5"/></g>
<g stroke="#1a5090" stroke-width="1" opacity="0.8"><line x1="385.5" y1="346.5" x2="385.5" y2="357.5"/><line x1="383" y1="346.5" x2="388" y2="346.5"/><line x1="383" y1="357.5" x2="388" y2="357.5"/></g>
<g stroke="#1a5090" stroke-width="1" opacity="0.8"><line x1="402.5" y1="359.5" x2="402.5" y2="365.5"/><line x1="400" y1="359.5" x2="405" y2="359.5"/><line x1="400" y1="365.5" x2="405" y2="365.5"/></g>
<g stroke="#1a5090" stroke-width="1" opacity="0.8"><line x1="420.5" y1="374.5" x2="420.5" y2="378.5"/><line x1="418" y1="374.5" x2="423" y2="374.5"/><line x1="418" y1="378.5" x2="423" y2="378.5"/></g>
<g stroke="#1a5090" stroke-width="1" opacity="0.8"><line x1="437.5" y1="372.5" x2="437.5" y2="376.5"/><line x1="435" y1="372.5" x2="440" y2="372.5"/><line x1="435" y1="376.5" x2="440" y2="376.5"/></g>
<g stroke="#45b84c" stroke-width="1" opacity="0.8"><line x1="316.5" y1="369.5" x2="316.5" y2="372.5"/><line x1="314" y1="369.5" x2="319" y2="369.5"/><line x1="314" y1="372.5" x2="319" y2="372.5"/></g>
<g stroke="#45b84c" stroke-width="1" opacity="0.8"><line x1="333.5" y1="366.5" x2="333.5" y2="373.5"/><line x1="331" y1="366.5" x2="336" y2="366.5"/><line x1="331" y1="373.5" x2="336" y2="373.5"/></g>
<g stroke="#45b84c" stroke-width="1" opacity="0.8"><line x1="351.5" y1="350.5" x2="351.5" y2="360.5"/><line x1="349" y1="350.5" x2="354" y2="350.5"/><line x1="349" y1="360.5" x2="354" y2="360.5"/></g>
<g stroke="#45b84c" stroke-width="1" opacity="0.8"><line x1="368.5" y1="338.5" x2="368.5" y2="348.5"/><line x1="366" y1="338.5" x2="371" y2="338.5"/><line x1="366" y1="348.5" x2="371" y2="348.5"/></g>
<g stroke="#45b84c" stroke-width="1" opacity="0.8"><line x1="385.5" y1="343.5" x2="385.5" y2="347.5"/><line x1="383" y1="343.5" x2="388" y2="343.5"/><line x1="383" y1="347.5" x2="388" y2="347.5"/></g>
<g stroke="#45b84c" stroke-width="1" opacity="0.8"><line x1="403.5" y1="348.5" x2="403.5" y2="354.5"/><line x1="401" y1="348.5" x2="406" y2="348.5"/><line x1="401" y1="354.5" x2="406" y2="354.5"/></g>
<g stroke="#45b84c" stroke-width="1" opacity="0.8"><line x1="420.5" y1="368.5" x2="420.5" y2="372.5"/><line x1="418" y1="368.5" x2="423" y2="368.5"/><line x1="418" y1="372.5" x2="423" y2="372.5"/></g>
<g stroke="#45b84c" stroke-width="1" opacity="0.8"><line x1="438.5" y1="366.5" x2="438.5" y2="371.5"/><line x1="436" y1="366.5" x2="441" y2="366.5"/><line x1="436" y1="371.5" x2="441" y2="371.5"/></g>
<polyline points="315.3,369.9 332.69,367.6 350.08,373 367.47,377.5 384.86,371.8 402.25,360.3 419.64,371.3 437.03,369.2" fill="none" stroke="#c8102e" stroke-width="1.4" stroke-linejoin="round"/>
<polyline points="315.8,372 333.19,368.9 350.58,370.3 367.97,356.8 385.36,350.1 402.75,361 420.14,376.3 437.53,374" fill="none" stroke="#1a5090" stroke-width="1.4" stroke-linejoin="round"/>
<polyline points="316.3,370.7 333.69,368.3 351.08,352.4 368.47,341.2 385.86,344.8 403.25,351 420.64,369.9 438.03,367.8" fill="none" stroke="#45b84c" stroke-width="1.4" stroke-linejoin="round"/>
<rect x="306.6" y="310.5" width="140.1" height="87.3" fill="none" stroke="#262626" stroke-width="1.1" />
<line x1="303.7" y1="317" x2="306.6" y2="317" stroke="#262626" stroke-width="1" />
<text x="300.8" y="319.7" font-size="7.8" text-anchor="end" fill="#1f1f1f" >10000</text>
<line x1="303.7" y1="331.15" x2="306.6" y2="331.15" stroke="#262626" stroke-width="1" />
<text x="300.8" y="333.85" font-size="7.8" text-anchor="end" fill="#1f1f1f" >1000</text>
<line x1="303.7" y1="345.3" x2="306.6" y2="345.3" stroke="#262626" stroke-width="1" />
<text x="300.8" y="348" font-size="7.8" text-anchor="end" fill="#1f1f1f" >100</text>
<line x1="303.7" y1="359.45" x2="306.6" y2="359.45" stroke="#262626" stroke-width="1" />
<text x="300.8" y="362.15" font-size="7.8" text-anchor="end" fill="#1f1f1f" >10</text>
<line x1="303.7" y1="373.6" x2="306.6" y2="373.6" stroke="#262626" stroke-width="1" />
<text x="300.8" y="376.3" font-size="7.8" text-anchor="end" fill="#1f1f1f" >1</text>
<line x1="303.7" y1="387.75" x2="306.6" y2="387.75" stroke="#262626" stroke-width="1" />
<text x="300.8" y="390.45" font-size="7.8" text-anchor="end" fill="#1f1f1f" >0.1</text>
<rect x="446.7" y="397.9" width="13.9" height="87.3" fill="#e3e3e3" stroke="#262626" stroke-width="1.1" />
<rect x="448" y="399.2" width="11.3" height="84.7" fill="none" stroke="#f4f4f4" stroke-width="0.8" />
<text transform="translate(451.3,441.55) rotate(90)" font-size="8.8" class="st" text-anchor="middle" fill="#111">Interleukin 6</text>
<g stroke="#c8102e" stroke-width="1" opacity="0.8"><line x1="315.5" y1="443.5" x2="315.5" y2="447.5"/><line x1="313" y1="443.5" x2="318" y2="443.5"/><line x1="313" y1="447.5" x2="318" y2="447.5"/></g>
<g stroke="#c8102e" stroke-width="1" opacity="0.8"><line x1="332.5" y1="442.5" x2="332.5" y2="446.5"/><line x1="330" y1="442.5" x2="335" y2="442.5"/><line x1="330" y1="446.5" x2="335" y2="446.5"/></g>
<g stroke="#c8102e" stroke-width="1" opacity="0.8"><line x1="350.5" y1="446.5" x2="350.5" y2="449.5"/><line x1="348" y1="446.5" x2="353" y2="446.5"/><line x1="348" y1="449.5" x2="353" y2="449.5"/></g>
<g stroke="#c8102e" stroke-width="1" opacity="0.8"><line x1="367.5" y1="449.5" x2="367.5" y2="453.5"/><line x1="365" y1="449.5" x2="370" y2="449.5"/><line x1="365" y1="453.5" x2="370" y2="453.5"/></g>
<g stroke="#c8102e" stroke-width="1" opacity="0.8"><line x1="384.5" y1="448.5" x2="384.5" y2="452.5"/><line x1="382" y1="448.5" x2="387" y2="448.5"/><line x1="382" y1="452.5" x2="387" y2="452.5"/></g>
<g stroke="#c8102e" stroke-width="1" opacity="0.8"><line x1="402.5" y1="434.5" x2="402.5" y2="441.5"/><line x1="400" y1="434.5" x2="405" y2="434.5"/><line x1="400" y1="441.5" x2="405" y2="441.5"/></g>
<g stroke="#c8102e" stroke-width="1" opacity="0.8"><line x1="419.5" y1="445.5" x2="419.5" y2="448.5"/><line x1="417" y1="445.5" x2="422" y2="445.5"/><line x1="417" y1="448.5" x2="422" y2="448.5"/></g>
<g stroke="#c8102e" stroke-width="1" opacity="0.8"><line x1="437.5" y1="440.5" x2="437.5" y2="445.5"/><line x1="435" y1="440.5" x2="440" y2="440.5"/><line x1="435" y1="445.5" x2="440" y2="445.5"/></g>
<g stroke="#1a5090" stroke-width="1" opacity="0.8"><line x1="315.5" y1="442.5" x2="315.5" y2="446.5"/><line x1="313" y1="442.5" x2="318" y2="442.5"/><line x1="313" y1="446.5" x2="318" y2="446.5"/></g>
<g stroke="#1a5090" stroke-width="1" opacity="0.8"><line x1="333.5" y1="443.5" x2="333.5" y2="447.5"/><line x1="331" y1="443.5" x2="336" y2="443.5"/><line x1="331" y1="447.5" x2="336" y2="447.5"/></g>
<g stroke="#1a5090" stroke-width="1" opacity="0.8"><line x1="350.5" y1="448.5" x2="350.5" y2="453.5"/><line x1="348" y1="448.5" x2="353" y2="448.5"/><line x1="348" y1="453.5" x2="353" y2="453.5"/></g>
<g stroke="#1a5090" stroke-width="1" opacity="0.8"><line x1="367.5" y1="432.5" x2="367.5" y2="450.5"/><line x1="365" y1="432.5" x2="370" y2="432.5"/><line x1="365" y1="450.5" x2="370" y2="450.5"/></g>
<g stroke="#1a5090" stroke-width="1" opacity="0.8"><line x1="385.5" y1="433.5" x2="385.5" y2="443.5"/><line x1="383" y1="433.5" x2="388" y2="433.5"/><line x1="383" y1="443.5" x2="388" y2="443.5"/></g>
<g stroke="#1a5090" stroke-width="1" opacity="0.8"><line x1="402.5" y1="426.5" x2="402.5" y2="432.5"/><line x1="400" y1="426.5" x2="405" y2="426.5"/><line x1="400" y1="432.5" x2="405" y2="432.5"/></g>
<g stroke="#1a5090" stroke-width="1" opacity="0.8"><line x1="420.5" y1="426.5" x2="420.5" y2="441.5"/><line x1="418" y1="426.5" x2="423" y2="426.5"/><line x1="418" y1="441.5" x2="423" y2="441.5"/></g>
<g stroke="#1a5090" stroke-width="1" opacity="0.8"><line x1="437.5" y1="447.5" x2="437.5" y2="451.5"/><line x1="435" y1="447.5" x2="440" y2="447.5"/><line x1="435" y1="451.5" x2="440" y2="451.5"/></g>
<g stroke="#45b84c" stroke-width="1" opacity="0.8"><line x1="316.5" y1="442.5" x2="316.5" y2="445.5"/><line x1="314" y1="442.5" x2="319" y2="442.5"/><line x1="314" y1="445.5" x2="319" y2="445.5"/></g>
<g stroke="#45b84c" stroke-width="1" opacity="0.8"><line x1="333.5" y1="441.5" x2="333.5" y2="444.5"/><line x1="331" y1="441.5" x2="336" y2="441.5"/><line x1="331" y1="444.5" x2="336" y2="444.5"/></g>
<g stroke="#45b84c" stroke-width="1" opacity="0.8"><line x1="351.5" y1="438.5" x2="351.5" y2="442.5"/><line x1="349" y1="438.5" x2="354" y2="438.5"/><line x1="349" y1="442.5" x2="354" y2="442.5"/></g>
<g stroke="#45b84c" stroke-width="1" opacity="0.8"><line x1="368.5" y1="413.5" x2="368.5" y2="429.5"/><line x1="366" y1="413.5" x2="371" y2="413.5"/><line x1="366" y1="429.5" x2="371" y2="429.5"/></g>
<g stroke="#45b84c" stroke-width="1" opacity="0.8"><line x1="385.5" y1="409.5" x2="385.5" y2="421.5"/><line x1="383" y1="409.5" x2="388" y2="409.5"/><line x1="383" y1="421.5" x2="388" y2="421.5"/></g>
<g stroke="#45b84c" stroke-width="1" opacity="0.8"><line x1="403.5" y1="406.5" x2="403.5" y2="423.5"/><line x1="401" y1="406.5" x2="406" y2="406.5"/><line x1="401" y1="423.5" x2="406" y2="423.5"/></g>
<g stroke="#45b84c" stroke-width="1" opacity="0.8"><line x1="420.5" y1="433.5" x2="420.5" y2="438.5"/><line x1="418" y1="433.5" x2="423" y2="433.5"/><line x1="418" y1="438.5" x2="423" y2="438.5"/></g>
<g stroke="#45b84c" stroke-width="1" opacity="0.8"><line x1="438.5" y1="437.5" x2="438.5" y2="440.5"/><line x1="436" y1="437.5" x2="441" y2="437.5"/><line x1="436" y1="440.5" x2="441" y2="440.5"/></g>
<polyline points="315.3,445.5 332.69,444.4 350.08,447.8 367.47,450.6 384.86,449.5 402.25,435.9 419.64,446.5 437.03,442.5" fill="none" stroke="#c8102e" stroke-width="1.4" stroke-linejoin="round"/>
<polyline points="315.8,444.4 333.19,445.5 350.58,450.5 367.97,435.8 385.36,436.6 402.75,428.8 420.14,430.4 437.53,449.5" fill="none" stroke="#1a5090" stroke-width="1.4" stroke-linejoin="round"/>
<polyline points="316.3,443.3 333.69,443.1 351.08,439.7 368.47,416.8 385.86,412 403.25,409.2 420.64,436.3 438.03,438" fill="none" stroke="#45b84c" stroke-width="1.4" stroke-linejoin="round"/>
<rect x="306.6" y="397.9" width="140.1" height="87.3" fill="none" stroke="#262626" stroke-width="1.1" />
<line x1="303.7" y1="404.4" x2="306.6" y2="404.4" stroke="#262626" stroke-width="1" />
<text x="300.8" y="407.1" font-size="7.8" text-anchor="end" fill="#1f1f1f" >10000</text>
<line x1="303.7" y1="418.55" x2="306.6" y2="418.55" stroke="#262626" stroke-width="1" />
<text x="300.8" y="421.25" font-size="7.8" text-anchor="end" fill="#1f1f1f" >1000</text>
<line x1="303.7" y1="432.7" x2="306.6" y2="432.7" stroke="#262626" stroke-width="1" />
<text x="300.8" y="435.4" font-size="7.8" text-anchor="end" fill="#1f1f1f" >100</text>
<line x1="303.7" y1="446.85" x2="306.6" y2="446.85" stroke="#262626" stroke-width="1" />
<text x="300.8" y="449.55" font-size="7.8" text-anchor="end" fill="#1f1f1f" >10</text>
<line x1="303.7" y1="461" x2="306.6" y2="461" stroke="#262626" stroke-width="1" />
<text x="300.8" y="463.7" font-size="7.8" text-anchor="end" fill="#1f1f1f" >1</text>
<line x1="303.7" y1="475.15" x2="306.6" y2="475.15" stroke="#262626" stroke-width="1" />
<text x="300.8" y="477.85" font-size="7.8" text-anchor="end" fill="#1f1f1f" >0.1</text>
<rect x="446.7" y="485.2" width="13.9" height="87.3" fill="#e3e3e3" stroke="#262626" stroke-width="1.1" />
<rect x="448" y="486.5" width="11.3" height="84.7" fill="none" stroke="#f4f4f4" stroke-width="0.8" />
<text transform="translate(451.3,528.85) rotate(90)" font-size="8.8" class="st" text-anchor="middle" fill="#111">Interleukin 2</text>
<g stroke="#c8102e" stroke-width="1" opacity="0.8"><line x1="315.5" y1="553.5" x2="315.5" y2="556.5"/><line x1="313" y1="553.5" x2="318" y2="553.5"/><line x1="313" y1="556.5" x2="318" y2="556.5"/></g>
<g stroke="#c8102e" stroke-width="1" opacity="0.8"><line x1="332.5" y1="551.5" x2="332.5" y2="557.5"/><line x1="330" y1="551.5" x2="335" y2="551.5"/><line x1="330" y1="557.5" x2="335" y2="557.5"/></g>
<g stroke="#c8102e" stroke-width="1" opacity="0.8"><line x1="350.5" y1="561.5" x2="350.5" y2="565.5"/><line x1="348" y1="561.5" x2="353" y2="561.5"/><line x1="348" y1="565.5" x2="353" y2="565.5"/></g>
<g stroke="#c8102e" stroke-width="1" opacity="0.8"><line x1="367.5" y1="554.5" x2="367.5" y2="563.5"/><line x1="365" y1="554.5" x2="370" y2="554.5"/><line x1="365" y1="563.5" x2="370" y2="563.5"/></g>
<g stroke="#c8102e" stroke-width="1" opacity="0.8"><line x1="384.5" y1="541.5" x2="384.5" y2="551.5"/><line x1="382" y1="541.5" x2="387" y2="541.5"/><line x1="382" y1="551.5" x2="387" y2="551.5"/></g>
<g stroke="#c8102e" stroke-width="1" opacity="0.8"><line x1="402.5" y1="538.5" x2="402.5" y2="552.5"/><line x1="400" y1="538.5" x2="405" y2="538.5"/><line x1="400" y1="552.5" x2="405" y2="552.5"/></g>
<g stroke="#c8102e" stroke-width="1" opacity="0.8"><line x1="419.5" y1="555.5" x2="419.5" y2="558.5"/><line x1="417" y1="555.5" x2="422" y2="555.5"/><line x1="417" y1="558.5" x2="422" y2="558.5"/></g>
<g stroke="#c8102e" stroke-width="1" opacity="0.8"><line x1="437.5" y1="555.5" x2="437.5" y2="559.5"/><line x1="435" y1="555.5" x2="440" y2="555.5"/><line x1="435" y1="559.5" x2="440" y2="559.5"/></g>
<g stroke="#1a5090" stroke-width="1" opacity="0.8"><line x1="315.5" y1="546.5" x2="315.5" y2="550.5"/><line x1="313" y1="546.5" x2="318" y2="546.5"/><line x1="313" y1="550.5" x2="318" y2="550.5"/></g>
<g stroke="#1a5090" stroke-width="1" opacity="0.8"><line x1="333.5" y1="549.5" x2="333.5" y2="552.5"/><line x1="331" y1="549.5" x2="336" y2="549.5"/><line x1="331" y1="552.5" x2="336" y2="552.5"/></g>
<g stroke="#1a5090" stroke-width="1" opacity="0.8"><line x1="350.5" y1="522.5" x2="350.5" y2="549.5"/><line x1="348" y1="522.5" x2="353" y2="522.5"/><line x1="348" y1="549.5" x2="353" y2="549.5"/></g>
<g stroke="#1a5090" stroke-width="1" opacity="0.8"><line x1="367.5" y1="519.5" x2="367.5" y2="536.5"/><line x1="365" y1="519.5" x2="370" y2="519.5"/><line x1="365" y1="536.5" x2="370" y2="536.5"/></g>
<g stroke="#1a5090" stroke-width="1" opacity="0.8"><line x1="385.5" y1="521.5" x2="385.5" y2="532.5"/><line x1="383" y1="521.5" x2="388" y2="521.5"/><line x1="383" y1="532.5" x2="388" y2="532.5"/></g>
<g stroke="#1a5090" stroke-width="1" opacity="0.8"><line x1="402.5" y1="538.5" x2="402.5" y2="545.5"/><line x1="400" y1="538.5" x2="405" y2="538.5"/><line x1="400" y1="545.5" x2="405" y2="545.5"/></g>
<g stroke="#1a5090" stroke-width="1" opacity="0.8"><line x1="420.5" y1="544.5" x2="420.5" y2="547.5"/><line x1="418" y1="544.5" x2="423" y2="544.5"/><line x1="418" y1="547.5" x2="423" y2="547.5"/></g>
<g stroke="#1a5090" stroke-width="1" opacity="0.8"><line x1="437.5" y1="551.5" x2="437.5" y2="553.5"/><line x1="435" y1="551.5" x2="440" y2="551.5"/><line x1="435" y1="553.5" x2="440" y2="553.5"/></g>
<g stroke="#45b84c" stroke-width="1" opacity="0.8"><line x1="316.5" y1="538.5" x2="316.5" y2="552.5"/><line x1="314" y1="538.5" x2="319" y2="538.5"/><line x1="314" y1="552.5" x2="319" y2="552.5"/></g>
<g stroke="#45b84c" stroke-width="1" opacity="0.8"><line x1="333.5" y1="550.5" x2="333.5" y2="553.5"/><line x1="331" y1="550.5" x2="336" y2="550.5"/><line x1="331" y1="553.5" x2="336" y2="553.5"/></g>
<g stroke="#45b84c" stroke-width="1" opacity="0.8"><line x1="351.5" y1="516.5" x2="351.5" y2="521.5"/><line x1="349" y1="516.5" x2="354" y2="516.5"/><line x1="349" y1="521.5" x2="354" y2="521.5"/></g>
<g stroke="#45b84c" stroke-width="1" opacity="0.8"><line x1="368.5" y1="510.5" x2="368.5" y2="521.5"/><line x1="366" y1="510.5" x2="371" y2="510.5"/><line x1="366" y1="521.5" x2="371" y2="521.5"/></g>
<g stroke="#45b84c" stroke-width="1" opacity="0.8"><line x1="385.5" y1="522.5" x2="385.5" y2="526.5"/><line x1="383" y1="522.5" x2="388" y2="522.5"/><line x1="383" y1="526.5" x2="388" y2="526.5"/></g>
<g stroke="#45b84c" stroke-width="1" opacity="0.8"><line x1="403.5" y1="536.5" x2="403.5" y2="541.5"/><line x1="401" y1="536.5" x2="406" y2="536.5"/><line x1="401" y1="541.5" x2="406" y2="541.5"/></g>
<g stroke="#45b84c" stroke-width="1" opacity="0.8"><line x1="420.5" y1="552.5" x2="420.5" y2="555.5"/><line x1="418" y1="552.5" x2="423" y2="552.5"/><line x1="418" y1="555.5" x2="423" y2="555.5"/></g>
<g stroke="#45b84c" stroke-width="1" opacity="0.8"><line x1="438.5" y1="551.5" x2="438.5" y2="553.5"/><line x1="436" y1="551.5" x2="441" y2="551.5"/><line x1="436" y1="553.5" x2="441" y2="553.5"/></g>
<polyline points="315.3,554.9 332.69,553.3 350.08,562.7 367.47,557.9 384.86,544 402.25,540.4 419.64,556.3 437.03,556.9" fill="none" stroke="#c8102e" stroke-width="1.4" stroke-linejoin="round"/>
<polyline points="315.8,547.9 333.19,550.3 350.58,526.1 367.97,522.4 385.36,525 402.75,541.7 420.14,545.7 437.53,552.3" fill="none" stroke="#1a5090" stroke-width="1.4" stroke-linejoin="round"/>
<polyline points="316.3,542.5 333.69,552.2 351.08,518.3 368.47,513.7 385.86,524.5 403.25,537.8 420.64,553.7 438.03,551.9" fill="none" stroke="#45b84c" stroke-width="1.4" stroke-linejoin="round"/>
<rect x="306.6" y="485.2" width="140.1" height="87.3" fill="none" stroke="#262626" stroke-width="1.1" />
<line x1="303.7" y1="491.7" x2="306.6" y2="491.7" stroke="#262626" stroke-width="1" />
<text x="300.8" y="494.4" font-size="7.8" text-anchor="end" fill="#1f1f1f" >10000</text>
<line x1="303.7" y1="505.85" x2="306.6" y2="505.85" stroke="#262626" stroke-width="1" />
<text x="300.8" y="508.55" font-size="7.8" text-anchor="end" fill="#1f1f1f" >1000</text>
<line x1="303.7" y1="520" x2="306.6" y2="520" stroke="#262626" stroke-width="1" />
<text x="300.8" y="522.7" font-size="7.8" text-anchor="end" fill="#1f1f1f" >100</text>
<line x1="303.7" y1="534.15" x2="306.6" y2="534.15" stroke="#262626" stroke-width="1" />
<text x="300.8" y="536.85" font-size="7.8" text-anchor="end" fill="#1f1f1f" >10</text>
<line x1="303.7" y1="548.3" x2="306.6" y2="548.3" stroke="#262626" stroke-width="1" />
<text x="300.8" y="551" font-size="7.8" text-anchor="end" fill="#1f1f1f" >1</text>
<line x1="303.7" y1="562.45" x2="306.6" y2="562.45" stroke="#262626" stroke-width="1" />
<text x="300.8" y="565.15" font-size="7.8" text-anchor="end" fill="#1f1f1f" >0.1</text>
<line x1="315.8" y1="572.5" x2="315.8" y2="575.5" stroke="#262626" stroke-width="1" />
<text transform="translate(318,578.7) rotate(-45)" font-size="7.7" text-anchor="end" fill="#1f1f1f" dy="4.9">C1D-7 pre-Gz</text>
<line x1="333.19" y1="572.5" x2="333.19" y2="575.5" stroke="#262626" stroke-width="1" />
<text transform="translate(335.39,578.7) rotate(-45)" font-size="7.7" text-anchor="end" fill="#1f1f1f" dy="4.9">C1D1 predose</text>
<line x1="350.58" y1="572.5" x2="350.58" y2="575.5" stroke="#262626" stroke-width="1" />
<text transform="translate(352.78,578.7) rotate(-45)" font-size="7.7" text-anchor="end" fill="#1f1f1f" dy="4.9">C1D1 MI</text>
<line x1="367.97" y1="572.5" x2="367.97" y2="575.5" stroke="#262626" stroke-width="1" />
<text transform="translate(370.17,578.7) rotate(-45)" font-size="7.7" text-anchor="end" fill="#1f1f1f" dy="4.9">C1D1 EOI</text>
<line x1="385.36" y1="572.5" x2="385.36" y2="575.5" stroke="#262626" stroke-width="1" />
<text transform="translate(387.56,578.7) rotate(-45)" font-size="7.7" text-anchor="end" fill="#1f1f1f" dy="4.9">C1D1 6 H EOI</text>
<line x1="402.75" y1="572.5" x2="402.75" y2="575.5" stroke="#262626" stroke-width="1" />
<text transform="translate(404.95,578.7) rotate(-45)" font-size="7.7" text-anchor="end" fill="#1f1f1f" dy="4.9">C1D2</text>
<line x1="420.14" y1="572.5" x2="420.14" y2="575.5" stroke="#262626" stroke-width="1" />
<text transform="translate(422.34,578.7) rotate(-45)" font-size="7.7" text-anchor="end" fill="#1f1f1f" dy="4.9">C1D6</text>
<line x1="437.53" y1="572.5" x2="437.53" y2="575.5" stroke="#262626" stroke-width="1" />
<text transform="translate(439.73,578.7) rotate(-45)" font-size="7.7" text-anchor="end" fill="#1f1f1f" dy="4.9">C2D1 predose</text>
<text transform="translate(273.2,441.4) rotate(-90) scale(0.78,1)" font-size="8" font-weight="bold" class="nb" text-anchor="middle" fill="#1a1a1a">pg/ml</text>
<text x="468.1" y="318.7" font-size="7.2" text-anchor="start" fill="#222" class="lg">Dose, mg</text>
<line x1="468.1" y1="326" x2="476.7" y2="326" stroke="#c8102e" stroke-width="1.5" />
<text x="480.2" y="328.5" font-size="7.2" text-anchor="start" fill="#222" class="lg">0.015&#8722;0.3</text>
<line x1="468.1" y1="334.6" x2="476.7" y2="334.6" stroke="#1a5090" stroke-width="1.5" />
<text x="480.2" y="337.1" font-size="7.2" text-anchor="start" fill="#222" class="lg">0.6&#8722;1.8</text>
<line x1="468.1" y1="343.2" x2="476.7" y2="343.2" stroke="#45b84c" stroke-width="1.5" />
<text x="480.2" y="345.7" font-size="7.2" text-anchor="start" fill="#222" class="lg">4&#8722;25</text>
<rect x="0.5" y="0.5" width="519" height="623" fill="none" stroke="#111" stroke-width="1.2" />
</svg></body></html>
